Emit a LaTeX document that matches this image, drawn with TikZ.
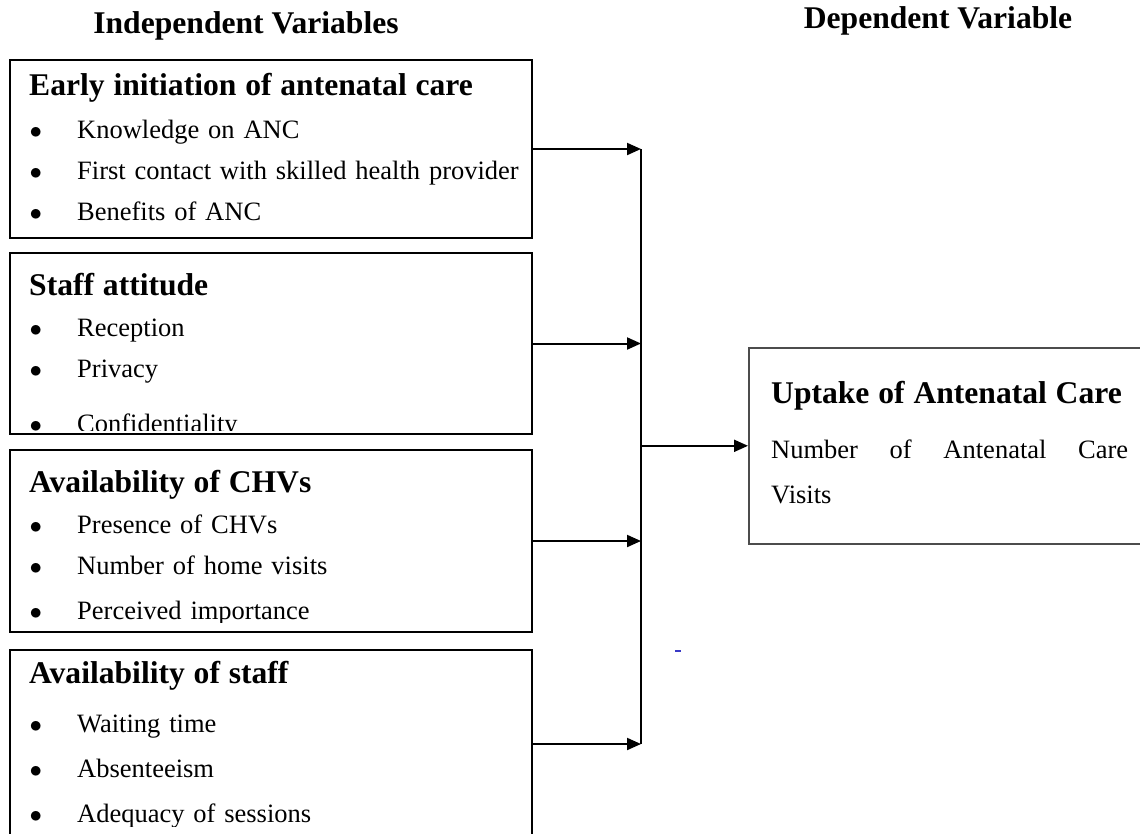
\documentclass[tikz,border=0pt]{standalone}
\usepackage{fontspec}
\setmainfont{Liberation Serif}
\usetikzlibrary{arrows.meta,calc,positioning}
\newcommand\bodyfont{\fontsize{26.5}{41}\selectfont}
\newcommand\headfont{\bfseries\fontsize{31.6}{41}\selectfont}
\newcommand\bul[1]{\makebox[48pt][l]{\hspace{0.5pt}$\bullet$}#1\par}
\tikzset{
  wire/.style={black,line width=2.4pt},
  flow/.style={-{Triangle[length=14pt,width=12pt]},line width=2pt},
  varbox/.style={draw=black,line width=2pt,anchor=north west,inner sep=0pt,
                 minimum width=522pt},
  vartext/.style={anchor=base west,inner xsep=20pt,inner ysep=0pt,text width=500pt,
                  align=left,font=\bodyfont},
  depbox/.style={draw=black!70,line width=1.6pt,anchor=north west,inner sep=0pt,
                 minimum width=402pt,minimum height=196pt},
  deptext/.style={anchor=base west,inner sep=0pt,text width=360pt,align=left,
                  font=\fontsize{26.5}{45}\selectfont},
  colhead/.style={font=\headfont,anchor=base},
}

\begin{document}
\begin{tikzpicture}[x=1pt,y=1pt]
  \path[use as bounding box] (0,0) rectangle (1140,-833);
  \node[colhead] (indep) at (246,-33) {Independent Variables};
  \node[colhead] (dep) at (938,-28) {Dependent Variable};

  % boxes of the independent variables
  \node[varbox,minimum height=178pt] (early) at (9,-59) {};
  \node[varbox,minimum height=181pt] (attitude) at (9,-252) {};
  \node[varbox,minimum height=182pt] (chv) at (9,-449) {};
  \node[varbox,minimum height=188pt] (staff) at (9,-649) {};
  \node[depbox] (uptake) at (748,-347) {};

  \node[vartext] (earlytext) at ([yshift=-36pt]early.north west)
    {{\headfont Early initiation of antenatal care\par}
     \vspace{2pt}
     \bul{Knowledge on ANC}
     \bul{First contact with skilled health provider}
     \bul{Benefits of ANC}};
  \begin{scope}
    \clip ([yshift=5pt]attitude.south west) rectangle (attitude.north east);
    \node[vartext] (attitudetext) at ([yshift=-43pt]attitude.north west)
      {{\headfont Staff attitude\par}
       \bul{Reception}
       \bul{Privacy}
       \vspace{14pt}
       \bul{Confidentiality}};
  \end{scope}
  \begin{scope}
    \clip ([yshift=11pt]chv.south west) rectangle (chv.north east);
    \node[vartext] (chvtext) at ([yshift=-43pt]chv.north west)
      {{\headfont Availability of CHVs\par}
       \bul{Presence of CHVs}
       \bul{Number of home visits}
       \vspace{4pt}
       \bul{Perceived importance}};
  \end{scope}
  \begin{scope}
    \clip ([yshift=13pt]staff.south west) rectangle (staff.north east);
    \node[vartext,font=\fontsize{26.5}{45}\selectfont] (stafftext)
      at ([yshift=-34pt]staff.north west)
      {{\headfont Availability of staff\par}
       \vspace{4pt}
       \bul{Waiting time}
       \bul{Absenteeism}
       \bul{Adequacy of sessions}};
  \end{scope}

  \node[deptext] (uptaketext) at (771,-403)
    {{\headfont Uptake of Antenatal Care\par}\vspace{10pt}
     \makebox[357pt][l]{Number\hspace{\fill}of\hspace{\fill}Antenatal\hspace{\fill}Care}\par
     Visits};

  % connectors
  \coordinate (bus) at (641,0);
  \foreach \b in {early,attitude,chv,staff}
    \draw[flow] (\b.east) -- (\b.east -| bus);
  \draw[wire] (early.east -| bus) -- (staff.east -| bus);
  \draw[flow] (bus |- uptake.west) -- (uptake.west);

  \draw[blue!55!gray,line width=1.5pt] (675,-651) -- (681,-651);
\end{tikzpicture}
\end{document}
